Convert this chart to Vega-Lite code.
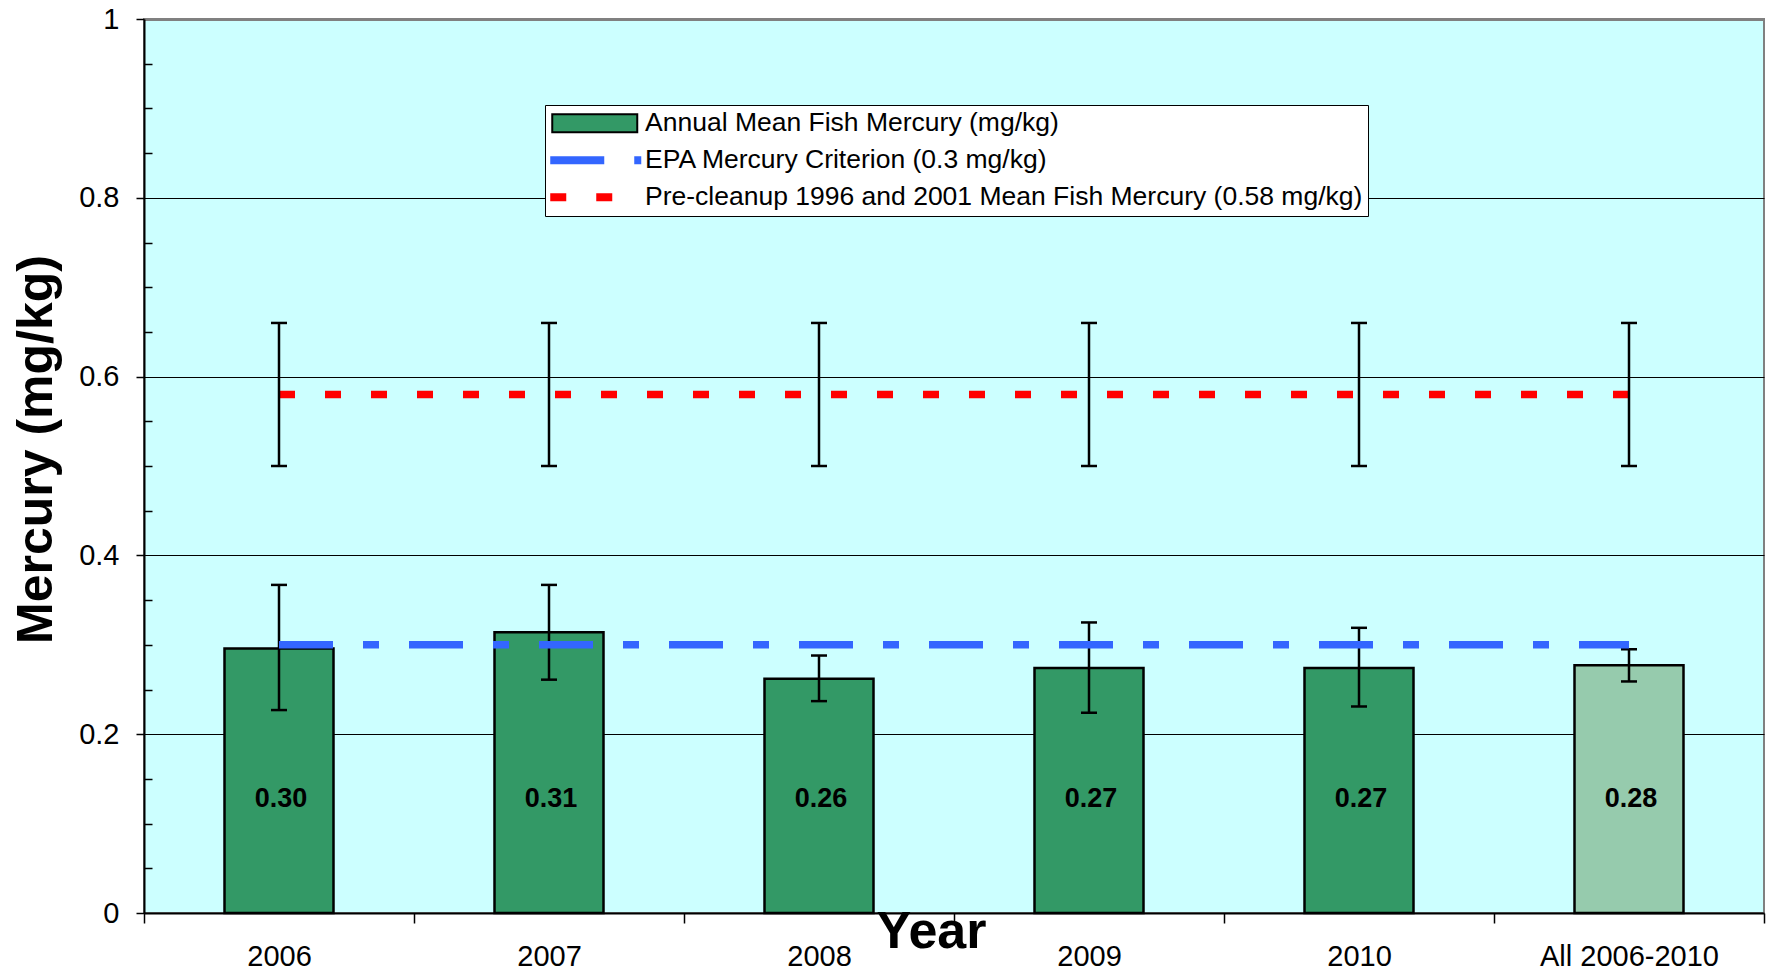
{
  "$schema": "https://vega.github.io/schema/vega-lite/v6.json",
  "width": 1620,
  "height": 894,
  "autosize": {"type": "none"},
  "padding": {"left": 144, "top": 19, "right": 3, "bottom": 57},
  "background": "white",
  "config": {
    "view": {"fill": "#CCFFFF", "stroke": "#808080", "strokeWidth": 2},
    "font": "Liberation Sans"
  },
  "data": {
    "values": [
      {"year": "2006", "mean": 0.296, "lo": 0.227, "hi": 0.367, "label": "0.30", "epa": 0.3, "pre": 0.58, "pre_lo": 0.5, "pre_hi": 0.66},
      {"year": "2007", "mean": 0.314, "lo": 0.261, "hi": 0.367, "label": "0.31", "epa": 0.3, "pre": 0.58, "pre_lo": 0.5, "pre_hi": 0.66},
      {"year": "2008", "mean": 0.262, "lo": 0.237, "hi": 0.288, "label": "0.26", "epa": 0.3, "pre": 0.58, "pre_lo": 0.5, "pre_hi": 0.66},
      {"year": "2009", "mean": 0.274, "lo": 0.224, "hi": 0.325, "label": "0.27", "epa": 0.3, "pre": 0.58, "pre_lo": 0.5, "pre_hi": 0.66},
      {"year": "2010", "mean": 0.274, "lo": 0.231, "hi": 0.319, "label": "0.27", "epa": 0.3, "pre": 0.58, "pre_lo": 0.5, "pre_hi": 0.66},
      {"year": "All 2006-2010", "mean": 0.277, "lo": 0.259, "hi": 0.295, "label": "0.28", "epa": 0.3, "pre": 0.58, "pre_lo": 0.5, "pre_hi": 0.66}
    ]
  },
  "encoding": {
    "x": {
      "field": "year", "type": "nominal", "sort": null,
      "scale": {"domain": ["2006", "2007", "2008", "2009", "2010", "All 2006-2010"], "paddingInner": 0, "paddingOuter": 0},
      "axis": {
        "title": "Year", "titleFont": "Liberation Sans", "titleFontSize": 52, "titleFontWeight": "bold", "titleColor": "black",
        "titleX": 787, "titleY": 34, "titleBaseline": "alphabetic", "titleAlign": "center",
        "labelFont": "Liberation Sans", "labelFontSize": 29, "labelColor": "black", "labelAngle": 0, "labelPadding": 19,
        "tickSize": 10, "tickColor": "black", "tickWidth": 1.5, "tickBand": "extent",
        "domainColor": "black", "domainWidth": 2, "grid": false
      }
    }
  },
  "layer": [
    {
      "transform": [{"filter": "datum.year !== 'All 2006-2010'"}],
      "mark": {"type": "bar", "size": 109, "fill": "#339966", "stroke": "black", "strokeWidth": 2.5, "fillOpacity": 1},
      "encoding": {
        "y": {
          "field": "mean", "type": "quantitative",
          "scale": {"domain": [0, 1], "nice": false, "zero": true},
          "axis": {
            "title": "Mercury (mg/kg)", "titleFont": "Liberation Sans", "titleFontSize": 50, "titleFontWeight": "bold", "titleColor": "black",
            "titleX": -93, "titleY": 430, "titleAngle": 270, "titleBaseline": "alphabetic", "titleAlign": "center",
            "values": [0, 0.05, 0.1, 0.15, 0.2, 0.25, 0.3, 0.35, 0.4, 0.45, 0.5, 0.55, 0.6, 0.65, 0.7, 0.75, 0.8, 0.85, 0.9, 0.95, 1],
            "format": "~g",
            "labelExpr": "indexof([0, 0.2, 0.4, 0.6, 0.8, 1], datum.value) >= 0 ? datum.label : ''",
            "labelFont": "Liberation Sans", "labelFontSize": 29, "labelColor": "black", "labelPadding": 17, "labelFlush": false, "labelOverlap": false,
            "tickSize": {"condition": {"test": "indexof([0, 0.2, 0.4, 0.6, 0.8, 1], datum.value) >= 0", "value": 8}, "value": -8},
            "tickColor": "black", "tickWidth": 1.5,
            "domainColor": "black", "domainWidth": 2,
            "grid": true,
            "gridColor": {"condition": {"test": "datum.value === 1", "value": "#808080"}, "value": "black"},
            "gridOpacity": {"condition": {"test": "indexof([0.2, 0.4, 0.6, 0.8, 1], datum.value) >= 0", "value": 1}, "value": 0},
            "gridWidth": {"condition": {"test": "datum.value === 1", "value": 3}, "value": 1}
          }
        }
      }
    },
    {
      "transform": [{"filter": "datum.year === 'All 2006-2010'"}],
      "mark": {"type": "bar", "size": 109, "stroke": "black", "strokeWidth": 2.5, "fill": "#96CBAD", "fillOpacity": 1},
      "encoding": {"y": {"field": "mean", "type": "quantitative"}}
    },
    {
      "mark": {"type": "rule", "color": "black", "strokeWidth": 2.5},
      "encoding": {"y": {"field": "lo", "type": "quantitative"}, "y2": {"field": "hi"}}
    },
    {
      "mark": {"type": "tick", "color": "black", "size": 16, "thickness": 2.5, "opacity": 1},
      "encoding": {"y": {"field": "lo", "type": "quantitative"}}
    },
    {
      "mark": {"type": "tick", "color": "black", "size": 16, "thickness": 2.5, "opacity": 1},
      "encoding": {"y": {"field": "hi", "type": "quantitative"}}
    },
    {
      "mark": {"type": "line", "color": "#3366FF", "strokeWidth": 7.5, "strokeDash": [54, 30, 16, 30], "strokeCap": "butt"},
      "encoding": {"y": {"field": "epa", "type": "quantitative"}}
    },
    {
      "mark": {"type": "line", "color": "#FF0000", "strokeWidth": 7.5, "strokeDash": [16, 30], "strokeCap": "butt"},
      "encoding": {"y": {"field": "pre", "type": "quantitative"}}
    },
    {
      "mark": {"type": "rule", "color": "black", "strokeWidth": 2.5},
      "encoding": {"y": {"field": "pre_lo", "type": "quantitative"}, "y2": {"field": "pre_hi"}}
    },
    {
      "mark": {"type": "tick", "color": "black", "size": 16, "thickness": 2.5, "opacity": 1},
      "encoding": {"y": {"field": "pre_lo", "type": "quantitative"}}
    },
    {
      "mark": {"type": "tick", "color": "black", "size": 16, "thickness": 2.5, "opacity": 1},
      "encoding": {"y": {"field": "pre_hi", "type": "quantitative"}}
    },
    {
      "mark": {"type": "text", "font": "Liberation Sans", "fontSize": 27, "fontWeight": "bold", "color": "black", "baseline": "middle", "dx": 2},
      "encoding": {
        "y": {"datum": 0.127, "type": "quantitative"},
        "text": {"field": "label"}
      }
    },
    {
      "mark": {"type": "point", "filled": true, "opacity": 0},
      "encoding": {
        "y": {"field": "mean", "type": "quantitative"},
        "fill": {
          "datum": "Annual Mean Fish Mercury (mg/kg)", "type": "nominal",
          "scale": {
            "domain": ["Annual Mean Fish Mercury (mg/kg)", "EPA Mercury Criterion (0.3 mg/kg)", "Pre-cleanup 1996 and 2001 Mean Fish Mercury (0.58 mg/kg)"],
            "range": ["#339966", "#3366FF", "#FF0000"]
          },
          "legend": {
            "orient": "none", "legendX": 401, "legendY": 86, "direction": "vertical", "title": null,
            "padding": 5, "fillColor": "white", "strokeColor": "black",
            "symbolSize": 4, "symbolStrokeWidth": 2, "symbolOffset": 0, "symbolOpacity": 1,
            "labelFont": "Liberation Sans", "labelFontSize": 26.5, "labelColor": "black", "labelOffset": 68.5, "labelLimit": 2000,
            "rowPadding": 10
          }
        },
        "stroke": {
          "datum": "Annual Mean Fish Mercury (mg/kg)", "type": "nominal",
          "scale": {
            "domain": ["Annual Mean Fish Mercury (mg/kg)", "EPA Mercury Criterion (0.3 mg/kg)", "Pre-cleanup 1996 and 2001 Mean Fish Mercury (0.58 mg/kg)"],
            "range": ["black", "#3366FF", "#FF0000"]
          }
        },
        "shape": {
          "datum": "Annual Mean Fish Mercury (mg/kg)", "type": "nominal",
          "scale": {
            "domain": ["Annual Mean Fish Mercury (mg/kg)", "EPA Mercury Criterion (0.3 mg/kg)", "Pre-cleanup 1996 and 2001 Mean Fish Mercury (0.58 mg/kg)"],
            "range": ["M-11,-9H74V9H-11Z", "M-12,-3H40V3H-12Z M72,-3H77V3H72Z", "M-12,-3H2V3H-12Z M34,-3H48V3H34Z"]
          }
        }
      }
    }
  ]
}
